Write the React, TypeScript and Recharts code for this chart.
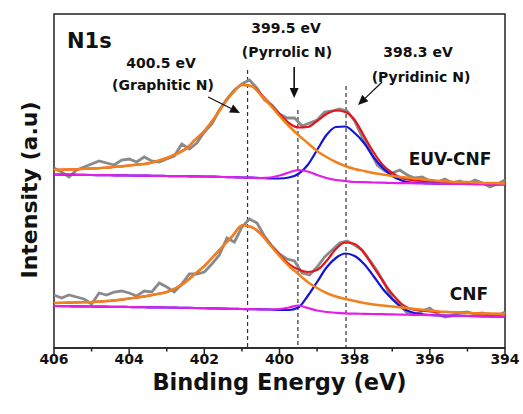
import { Line, LineChart, ReferenceArea, ReferenceLine, XAxis, YAxis } from "recharts";

// binding energy grids (eV)
const FIT_EV = [
  406, 405.75, 405.5, 405.25, 405, 404.75, 404.5, 404.25, 404, 403.75, 403.5, 403.25, 403,
  402.75, 402.5, 402.25, 402, 401.75, 401.5, 401.25, 401, 400.75, 400.5, 400.25, 400,
  399.75, 399.5, 399.25, 399, 398.75, 398.5, 398.25, 398, 397.75, 397.5, 397.25, 397,
  396.75, 396.5, 396.25, 396, 395.75, 395.5, 395.25, 395, 394.75, 394.5, 394.25, 394,
];
const RAW_EV = [
  406, 405.8, 405.6, 405.4, 405.2, 405, 404.8, 404.6, 404.4, 404.2, 404, 403.8, 403.6, 403.4,
  403.2, 403, 402.8, 402.6, 402.4, 402.2, 402, 401.8, 401.6, 401.4, 401.2, 401, 400.8, 400.6,
  400.4, 400.2, 400, 399.8, 399.6, 399.4, 399.2, 399, 398.8, 398.6, 398.4, 398.2, 398, 397.8,
  397.6, 397.4, 397.2, 397, 396.8, 396.6, 396.4, 396.2, 396, 395.8, 395.6, 395.4, 395.2, 395,
  394.8, 394.6, 394.4, 394.2, 394,
];

// EUV-CNF (offset spectrum, arbitrary units)
const EUV_RAW = [
  180, 176, 171, 178, 181, 184, 187, 185, 183, 188, 189, 186, 191, 187, 186, 189, 192, 204, 199,
  205, 216, 224, 238, 249, 258, 264, 268, 260, 248, 243, 234, 230, 230, 222, 225, 228, 236, 237,
  239, 237, 227, 211, 198, 183, 177, 175, 178, 173, 170, 171, 167, 166, 169, 165, 167, 164, 168,
  165, 161, 164, 168,
];
const EUV_GRAPHITIC = [
  178, 178.3, 178.6, 179, 179.5, 180, 180.7, 181.5, 182.5, 183.5, 184.5, 187, 190, 194, 199, 208,
  217, 229, 243, 255, 263, 262, 253, 243, 232, 222, 213, 205, 197, 191, 186, 182, 179, 177, 175,
  173.5, 172, 171, 170, 169, 168, 167, 166.5, 166, 166, 165.5, 165, 165, 164.5,
];
const EUV_PYRROLIC = [
  173.5, 173.4, 173.3, 173.1, 173, 172.9, 172.8, 172.6, 172.5, 172.4, 172.3, 172.1, 172, 171.9,
  171.8, 171.6, 171.5, 171.3, 171, 170.8, 170.5, 170.3, 170, 170.5, 172.5, 175.5, 178, 176.5, 173,
  170, 168, 167, 166, 165.8, 165.5, 165.3, 165, 164.9, 164.8, 164.6, 164.5, 164.4, 164.3, 164.1,
  164, 163.9, 163.8, 163.6, 163.5,
];
const EUV_PYRIDINIC = [
  173.5, 173.4, 173.3, 173.1, 173, 172.9, 172.8, 172.6, 172.5, 172.4, 172.3, 172.1, 172, 171.9,
  171.8, 171.6, 171.5, 171.3, 171, 170.8, 170.5, 170.3, 170, 169.5, 169.5, 170.5, 174, 183, 198,
  213, 221, 221.5, 215, 205, 191, 180, 172, 167.5, 165.5, 165, 164.5, 164.4, 164.3, 164.1, 164,
  163.9, 163.8, 163.6, 163.5,
];
const EUV_ENVELOPE = [
  178, 178.3, 178.6, 179, 179.5, 180, 180.7, 181.5, 182.5, 183.5, 184.5, 187, 190, 194, 199, 208,
  217, 229, 243, 255, 263, 262, 254, 244, 234, 225, 220.5, 221, 227, 234, 237.5, 236, 228, 212,
  196, 183, 175, 170, 168, 167, 166.5, 166, 165.7, 165.5, 165.3, 165, 164.8, 164.6, 164.5,
];

// CNF
const CNF_RAW = [
  53, 50, 53, 51, 49, 44, 55, 53, 56, 57, 55, 52, 57, 56, 65, 61, 56, 64, 74, 74, 76, 84, 93, 110,
  106, 121, 129, 125, 112, 102, 94, 89, 87, 75, 73, 81, 91, 98, 105, 107, 103, 98, 88, 77, 64, 49,
  43, 35, 33, 37, 40, 34, 31, 32, 35, 36, 34, 35, 32, 32, 36,
];
const CNF_GRAPHITIC = [
  45, 45.2, 45.5, 45.8, 46, 46.5, 47.2, 48.2, 49.5, 50.7, 52.2, 54, 56, 60, 66, 74, 82, 92, 102,
  112, 122.5, 121, 114, 103, 92, 82, 74, 66, 60, 55, 51.5, 49, 47, 45, 43.5, 42.5, 41.5, 40.5,
  39.5, 38.5, 37.5, 36.5, 36, 35.5, 35, 34.7, 34.4, 34.2, 34,
];
const CNF_PYRROLIC = [
  42, 41.9, 41.7, 41.6, 41.5, 41.4, 41.2, 41.1, 41, 40.9, 40.7, 40.6, 40.5, 40.3, 40.1, 40, 39.8,
  39.6, 39.4, 39.2, 39, 38.8, 38.7, 38.5, 39, 40.5, 42.5, 40, 37.5, 36, 35.2, 34.7, 34.4, 34.2, 34,
  33.8, 33.6, 33.4, 33.2, 33, 32.8, 32.6, 32.4, 32.2, 32, 31.8, 31.6, 31.5, 31.3,
];
const CNF_PYRIDINIC = [
  42, 41.9, 41.7, 41.6, 41.5, 41.4, 41.2, 41.1, 41, 40.9, 40.7, 40.6, 40.5, 40.3, 40.1, 40, 39.8,
  39.6, 39.4, 39.2, 39, 38.8, 38.7, 38.5, 38, 38, 40.5, 52, 66, 80.5, 90, 94.5, 92, 84, 72, 59, 49,
  40.5, 36, 34, 33, 32.6, 32.4, 32.2, 32, 31.8, 31.6, 31.5, 31.3,
];
const CNF_ENVELOPE = [
  45, 45.2, 45.5, 45.8, 46, 46.5, 47.2, 48.2, 49.5, 50.7, 52.2, 54, 56, 60, 66, 74, 82, 92, 102,
  112, 122.5, 121, 114.5, 103.5, 93, 84, 78.5, 76, 78, 87, 99, 105.5, 104, 95, 81, 67, 54, 44, 39,
  37.5, 36.5, 36, 36, 35.5, 35, 34.7, 34.4, 34.2, 34,
];

const X_TICKS = [394, 395, 396, 397, 398, 399, 400, 401, 402, 403, 404, 405, 406];
const PEAK_LINES = [
  { ev: 400.85, top: 278 },
  { ev: 399.51, top: 238 },
  { ev: 398.23, top: 262 },
];

const FONT = "'DejaVu Sans', Arial, sans-serif";
const INK = "#222";

const pts = (xs: number[], ys: number[]) => xs.map((x, i) => ({ x, y: ys[i] }));

const XTick = (props: any) => {
  const { x, y, payload } = props;
  const major = payload.value % 2 === 0;
  return (
    <g>
      <line x1={x} x2={x} y1={y} y2={y + (major ? 6 : 3.5)} stroke={INK} strokeWidth={1.5} />
      {major && (
        <text x={x} y={y + 16} textAnchor="middle" fontFamily={FONT} fontWeight="bold" fontSize={14} fill="#111">
          {payload.value}
        </text>
      )}
    </g>
  );
};

const arrow = (w: number) => (props: any) => {
  const { x1, y1, x2, y2 } = props;
  const a = Math.atan2(y2 - y1, x2 - x1);
  const len = 10;
  const half = 4.5;
  const bx = x2 - len * Math.cos(a);
  const by = y2 - len * Math.sin(a);
  const px = -Math.sin(a) * half;
  const py = Math.cos(a) * half;
  return (
    <g>
      <line x1={x1} y1={y1} x2={bx} y2={by} stroke="#111" strokeWidth={w} />
      <polygon points={`${x2},${y2} ${bx + px},${by + py} ${bx - px},${by - py}`} fill="#111" />
    </g>
  );
};

const series = [
  { key: "euv-raw", data: pts(RAW_EV, EUV_RAW), color: "#8a8a8a", w: 2.8, type: "linear" },
  { key: "cnf-raw", data: pts(RAW_EV, CNF_RAW), color: "#8a8a8a", w: 2.8, type: "linear" },
  { key: "euv-env", data: pts(FIT_EV, EUV_ENVELOPE), color: "#e3141c", w: 2.2, type: "monotone" },
  { key: "cnf-env", data: pts(FIT_EV, CNF_ENVELOPE), color: "#e3141c", w: 2.2, type: "monotone" },
  { key: "euv-pyd", data: pts(FIT_EV, EUV_PYRIDINIC), color: "#1414d8", w: 2.2, type: "monotone" },
  { key: "cnf-pyd", data: pts(FIT_EV, CNF_PYRIDINIC), color: "#1414d8", w: 2.2, type: "monotone" },
  { key: "euv-pyr", data: pts(FIT_EV, EUV_PYRROLIC), color: "#e41ee6", w: 2.2, type: "monotone" },
  { key: "cnf-pyr", data: pts(FIT_EV, CNF_PYRROLIC), color: "#e41ee6", w: 2.2, type: "monotone" },
  { key: "euv-gra", data: pts(FIT_EV, EUV_GRAPHITIC), color: "#f0821e", w: 2.5, type: "monotone" },
  { key: "cnf-gra", data: pts(FIT_EV, CNF_GRAPHITIC), color: "#f0821e", w: 2.5, type: "monotone" },
];

const txt = { fontFamily: FONT, fontWeight: "bold" as const, fill: "#111" };

export default function App() {
  return (
    <div style={{ position: "absolute", left: 0, top: 0, width: 523, height: 414, background: "#fff" }}>
      <LineChart width={523} height={414} margin={{ top: 14, right: 18, left: 54, bottom: 0 }}>
        <XAxis
          dataKey="x"
          type="number"
          domain={[394, 406]}
          reversed
          ticks={X_TICKS}
          interval={0}
          tickSize={0}
          tickMargin={0}
          tickLine={false}
          tick={<XTick />}
          height={66}
          axisLine={{ stroke: INK, strokeWidth: 1.5 }}
        />
        <YAxis hide type="number" domain={[0, 334]} allowDataOverflow />
        <ReferenceArea x1={394} x2={406} y1={0} y2={334} fill="none" stroke={INK} strokeWidth={1.5} />
        {PEAK_LINES.map((p) => (
          <ReferenceLine
            key={p.ev}
            segment={[{ x: p.ev, y: p.top }, { x: p.ev, y: 0 }]}
            stroke="#333"
            strokeWidth={1.2}
            strokeDasharray="4 3"
          />
        ))}
        {series.map((s) => (
          <Line
            key={s.key}
            data={s.data}
            dataKey="y"
            type={s.type as any}
            stroke={s.color}
            strokeWidth={s.w}
            dot={false}
            activeDot={false}
            isAnimationActive={false}
          />
        ))}
        <ReferenceLine segment={[{ x: 401.9, y: 251 }, { x: 401.05, y: 235 }]} shape={arrow(1.2)} />
        <ReferenceLine segment={[{ x: 399.61, y: 281 }, { x: 399.61, y: 250 }]} shape={arrow(1.6)} />
        <ReferenceLine segment={[{ x: 397.27, y: 266 }, { x: 397.91, y: 243 }]} shape={arrow(1.2)} />
      </LineChart>
      <svg width={523} height={414} style={{ position: "absolute", left: 0, top: 0, pointerEvents: "none" }}>
        <text x={67} y={48} fontSize={21} {...txt}>N1s</text>
        <text x={161} y={68} fontSize={14} textAnchor="middle" {...txt}>400.5 eV</text>
        <text x={163} y={90} fontSize={14} textAnchor="middle" {...txt}>(Graphitic N)</text>
        <text x={286} y={33} fontSize={14} textAnchor="middle" {...txt}>399.5 eV</text>
        <text x={287} y={57} fontSize={14} textAnchor="middle" {...txt}>(Pyrrolic N)</text>
        <text x={418} y={57} fontSize={14} textAnchor="middle" {...txt}>398.3 eV</text>
        <text x={421} y={82} fontSize={14} textAnchor="middle" {...txt}>(Pyridinic N)</text>
        <text x={450} y={165} fontSize={17} textAnchor="middle" {...txt}>EUV-CNF</text>
        <text x={469} y={300} fontSize={17} textAnchor="middle" {...txt}>CNF</text>
        <text x={279.5} y={390} fontSize={22.5} textAnchor="middle" {...txt}>Binding Energy (eV)</text>
        <text x={37} y={190} fontSize={22} textAnchor="middle" transform="rotate(-90 37 190)" {...txt}>
          Intensity (a.u)
        </text>
      </svg>
    </div>
  );
}
